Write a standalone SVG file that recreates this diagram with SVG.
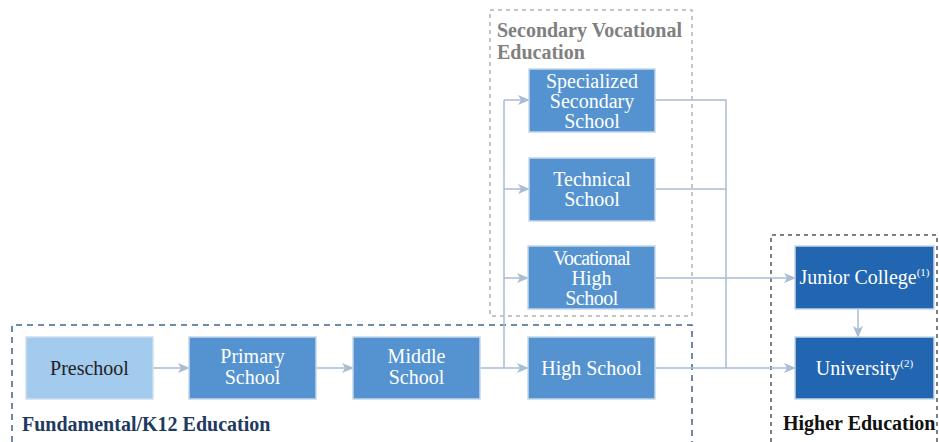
<svg xmlns="http://www.w3.org/2000/svg" width="939" height="442" viewBox="0 0 939 442">
<defs>
<style>
.box{fill:#5593d0;stroke:#c3d6ea;stroke-width:1.5}
.pre{fill:#a2cbee;stroke:#c9dff3;stroke-width:1.5}
.dark{fill:#2266b2;stroke:#c3d6ea;stroke-width:1.5}
.t{font-family:"Liberation Serif","Times New Roman",serif;font-size:20px;fill:#fff;text-anchor:middle}
.tk{fill:#222}
.sup{font-size:11px}
.lbl{font-family:"Liberation Serif","Times New Roman",serif;font-size:20px;font-weight:bold}
.ln{fill:none;stroke:#a9bdd3;stroke-width:1.5}
.grp{fill:none;stroke-width:1.5}
</style>
<marker id="ah" viewBox="0 0 12 10" refX="11" refY="5" markerWidth="12" markerHeight="10" markerUnits="userSpaceOnUse" orient="auto">
<path d="M0,0 L12,5 L0,10 L3,5 Z" fill="#a9bdd3"/>
</marker>
</defs>

<g id="group-k12">
<path class="grp" d="M12,442 V325 H692 V442" stroke="#3d6490" stroke-dasharray="6,5"/>
<text class="lbl" x="22" y="431" fill="#1f3a5f">Fundamental/K12 Education</text>
</g>
<g id="group-secondary">
<rect class="grp" x="490" y="10" width="202" height="306" stroke="#b3b3b3" stroke-dasharray="4,4"/>
<text class="lbl" x="497" y="37" fill="#808080">Secondary Vocational</text>
<text class="lbl" x="497" y="59" fill="#808080">Education</text>
</g>
<g id="group-higher">
<path class="grp" d="M771,442 V235 H937 V442" stroke="#555" stroke-dasharray="4,4"/>
<text class="lbl" x="783" y="430" fill="#111">Higher Education</text>
</g>

<g id="connectors">
<line class="ln" x1="153" y1="368" x2="189" y2="368" marker-end="url(#ah)"/>
<line class="ln" x1="316" y1="368" x2="353" y2="368" marker-end="url(#ah)"/>
<line class="ln" x1="480" y1="368" x2="528" y2="368" marker-end="url(#ah)"/>
<path class="ln" d="M504,368 V100"/>
<line class="ln" x1="504" y1="100" x2="529" y2="100" marker-end="url(#ah)"/>
<line class="ln" x1="504" y1="189" x2="529" y2="189" marker-end="url(#ah)"/>
<line class="ln" x1="504" y1="278" x2="528" y2="278" marker-end="url(#ah)"/>
<path class="ln" d="M655,100 H726 V368"/>
<line class="ln" x1="655" y1="189" x2="726" y2="189"/>
<line class="ln" x1="655" y1="278" x2="795" y2="278" marker-end="url(#ah)"/>
<line class="ln" x1="655" y1="368" x2="795" y2="368" marker-end="url(#ah)"/>
<line class="ln" x1="858" y1="309" x2="858" y2="337" marker-end="url(#ah)"/>
</g>

<g id="node-preschool">
<rect class="pre" x="26" y="337" width="127" height="62"/>
<text class="t tk" x="89.5" y="375">Preschool</text>
</g>
<g id="node-primary">
<rect class="box" x="189" y="337" width="127" height="62"/>
<text class="t" x="252.5" y="363">Primary</text>
<text class="t" x="252.5" y="384">School</text>
</g>
<g id="node-middle">
<rect class="box" x="353" y="337" width="127" height="62"/>
<text class="t" x="416.5" y="363">Middle</text>
<text class="t" x="416.5" y="384">School</text>
</g>
<g id="node-high">
<rect class="box" x="528" y="337" width="127" height="62"/>
<text class="t" x="591.5" y="375">High School</text>
</g>
<g id="node-specialized">
<rect class="box" x="529" y="69" width="126" height="63"/>
<text class="t" x="592" y="88">Specialized</text>
<text class="t" x="592" y="108">Secondary</text>
<text class="t" x="592" y="128">School</text>
</g>
<g id="node-technical">
<rect class="box" x="529" y="158" width="126" height="63"/>
<text class="t" x="592" y="186">Technical</text>
<text class="t" x="592" y="206">School</text>
</g>
<g id="node-vocational">
<rect class="box" x="528" y="246" width="127" height="63"/>
<text class="t" x="591.5" y="265" letter-spacing="-0.8">Vocational</text>
<text class="t" x="591.5" y="285">High</text>
<text class="t" x="591.5" y="305" letter-spacing="-0.5">School</text>
</g>
<g id="node-junior">
<rect class="dark" x="795" y="246" width="139" height="63"/>
<text class="t" x="864.5" y="284">Junior College<tspan class="sup" dy="-8">(1)</tspan></text>
</g>
<g id="node-university">
<rect class="dark" x="795" y="337" width="139" height="62"/>
<text class="t" x="864.5" y="375">University<tspan class="sup" dy="-8">(2)</tspan></text>
</g>
</svg>
